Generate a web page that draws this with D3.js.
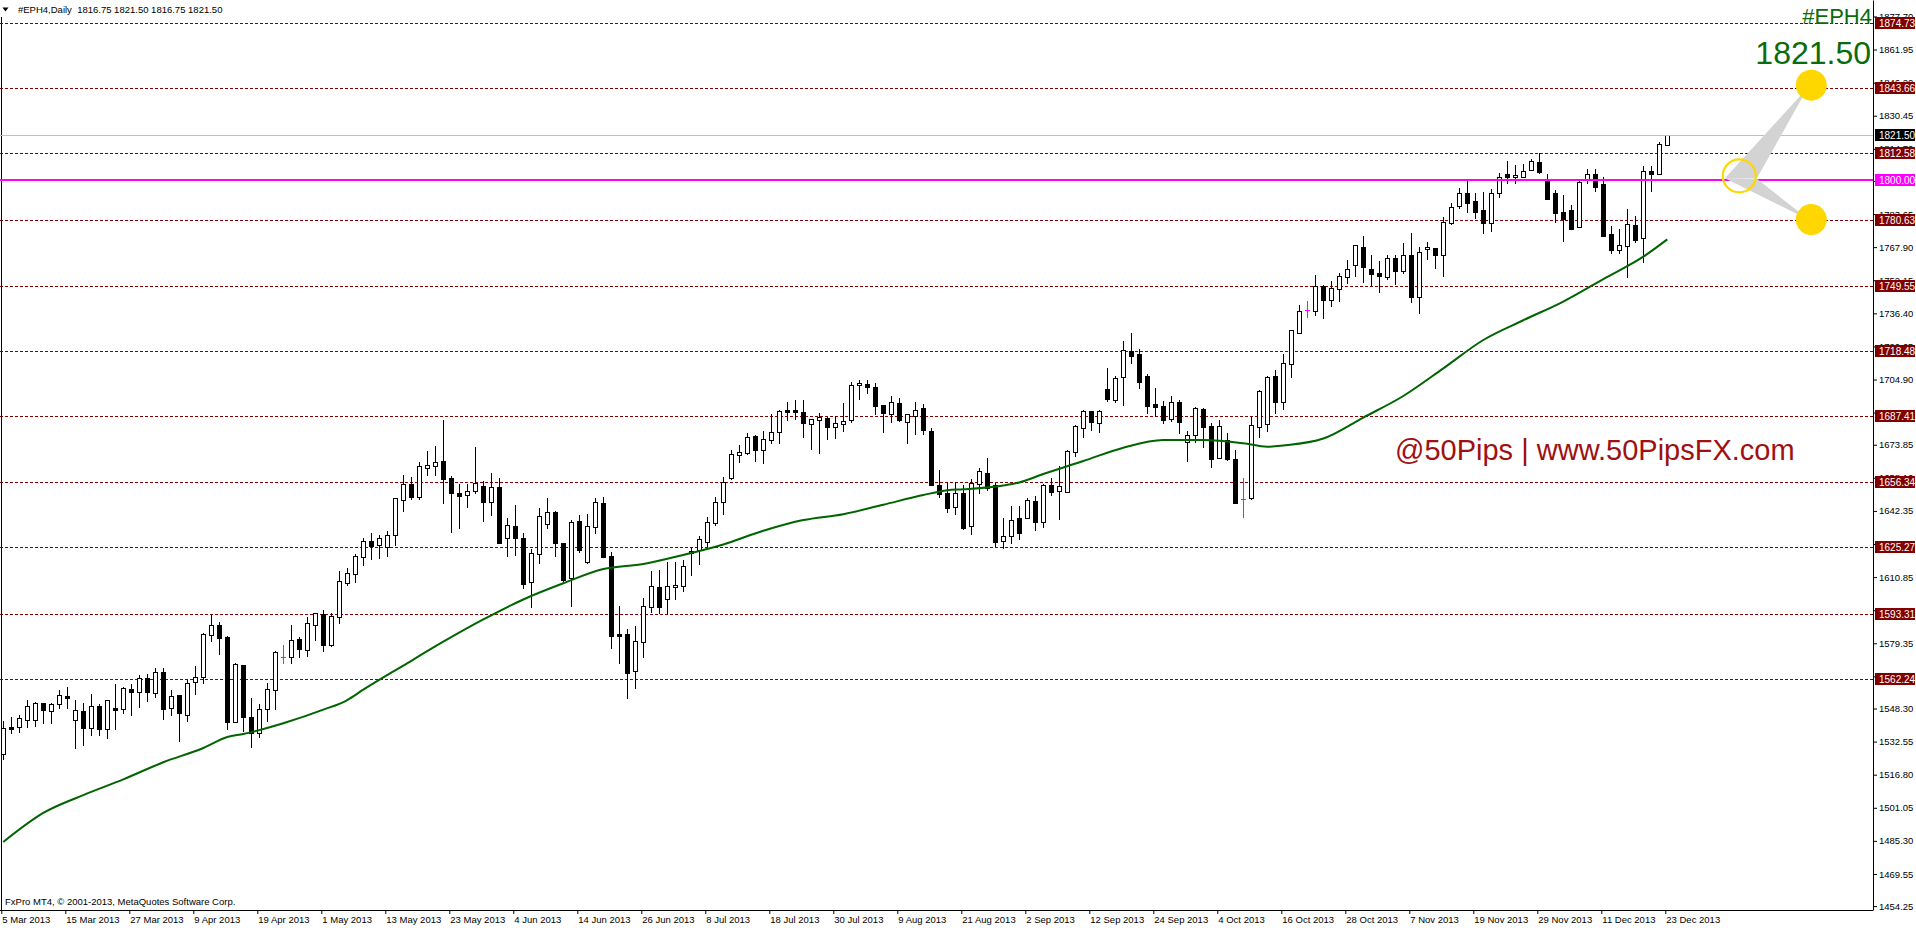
<!DOCTYPE html>
<html><head><meta charset="utf-8">
<script src="https://cdn.jsdelivr.net/npm/d3@7"></script>
<style>
html,body{margin:0;padding:0;background:#fff;overflow:hidden}
svg{display:block}
text{font-family:"Liberation Sans",Arial,sans-serif;white-space:pre}
</style></head><body>
<svg id="c" width="1916" height="928"></svg>
<script>
// ---------- DATA ----------
const symbol = "#EPH4";
const headerText = "#EPH4,Daily  1816.75 1821.50 1816.75 1821.50";
const lastPrice = 1821.50;
const keyLevel = 1800.00;
const copyright = "FxPro MT4, \u00A9 2001-2013, MetaQuotes Software Corp.";
const watermark = "@50Pips | www.50PipsFX.com";

const dateLabels = ["5 Mar 2013","15 Mar 2013","27 Mar 2013","9 Apr 2013","19 Apr 2013","1 May 2013","13 May 2013","23 May 2013","4 Jun 2013","14 Jun 2013","26 Jun 2013","8 Jul 2013","18 Jul 2013","30 Jul 2013","9 Aug 2013","21 Aug 2013","2 Sep 2013","12 Sep 2013","24 Sep 2013","4 Oct 2013","16 Oct 2013","28 Oct 2013","7 Nov 2013","19 Nov 2013","29 Nov 2013","11 Dec 2013","23 Dec 2013"];
const barsPerLabel = 8;

const opens = [1526.5,1539.35,1539.4,1542.8,1542.7,1550.8,1546.9,1550.3,1554.1,1542.7,1546.9,1538.9,1549.3,1538.4,1548.4,1547.9,1557.6,1556.0,1562.7,1555.5,
1565.5,1548.4,1554.6,1545.1,1560.8,1563.1,1583.1,1587.9,1582.3,1541.7,1568.85,1544.1,1536.5,1547.9,1556.95,1573.0,1572.7,1581.2,1576.0,1587.9,
1593.1,1578.7,1591.7,1607.9,1612.2,1620.3,1627.9,1626.0,1625.3,1630.7,1647.4,1655.0,1649.1,1662.6,1663.6,1665.95,1657.9,1650.7,1649.8,1651.7,
1654.05,1646.45,1653.6,1629.3,1635.0,1629.3,1608.4,1621.7,1636.0,1641.85,1626.9,1610.3,1637.6,1618.2,1634.5,1646.1,1620.7,1583.6,1583.6,1566.0,
1579.8,1596.5,1606.0,1600.3,1606.0,1606.5,1622.5,1623.75,1627.7,1636.4,1646.45,1657.9,1668.8,1669.75,1677.85,1671.2,1675.95,1679.75,1690.4,1690.4,
1689.3,1683.6,1685.5,1686.6,1682.1,1683.9,1685.5,1702.1,1702.6,1701.2,1692.6,1688.3,1693.55,1684.5,1687.7,1691.2,1680.2,1654.5,1650.7,1644.05,
1650.7,1635.0,1655.15,1660.25,1654.7,1628.0,1630.25,1638.8,1639.1,1647.1,1637.2,1654.7,1652.0,1651.5,1670.55,1682.0,1689.9,1684.35,1700.2,1695.15,
1705.9,1718.3,1716.9,1706.4,1693.25,1692.1,1686.3,1694.0,1675.0,1678.3,1690.7,1682.6,1667.7,1676.25,1666.9,1647.85,1648.3,1682.45,1683.55,1706.4,
1694.0,1712.1,1727.2,1737.8,1737.35,1749.4,1742.6,1747.8,1753.5,1759.2,1767.8,1757.3,1755.45,1753.85,1762.6,1756.7,1764.2,1744.3,1766.85,1767.3,
1764.3,1779.2,1787.65,1793.5,1789.9,1785.6,1779.55,1793.5,1802.55,1801.1,1801.45,1804.45,1808.3,1800.2,1793.5,1784.5,1785.6,1777.3,1799.85,1802.55,
1797.8,1774.0,1766.7,1768.6,1778.3,1772.1,1804.0,1802.55,1816.75];
const highs = [1542.5,1544.1,1545.2,1552.3,1551.6,1551.1,1550.8,1557.1,1558.4,1552.35,1550.8,1555.05,1550.3,1552.2,1560.0,1558.4,1560.0,1564.25,1564.6,1567.4,
1567.4,1557.1,1554.6,1561.9,1568.5,1584.1,1592.8,1589.3,1582.6,1570.1,1568.85,1553.15,1550.45,1560.6,1575.7,1578.5,1587.9,1582.2,1592.0,1593.9,
1595.2,1593.6,1613.6,1615.0,1621.7,1629.5,1631.7,1630.9,1632.8,1648.35,1659.45,1658.35,1665.6,1670.9,1673.25,1685.6,1659.0,1655.2,1655.0,1672.8,
1656.75,1660.25,1657.9,1638.8,1645.0,1631.7,1624.2,1643.7,1648.5,1642.3,1626.9,1638.0,1640.4,1640.9,1648.5,1649.0,1622.65,1597.1,1586.0,1587.6,
1600.75,1613.6,1614.1,1617.9,1618.05,1619.0,1624.55,1630.4,1639.3,1649.0,1658.5,1671.35,1673.7,1679.3,1678.3,1680.2,1688.3,1690.4,1694.0,1695.15,
1695.15,1685.95,1688.8,1687.2,1687.7,1693.55,1703.55,1704.7,1704.7,1703.1,1692.9,1697.05,1695.95,1688.3,1694.2,1693.25,1681.65,1661.7,1656.3,1656.3,
1654.5,1657.4,1662.6,1667.5,1655.8,1638.8,1644.7,1644.7,1648.65,1649.6,1655.0,1657.9,1663.7,1671.3,1683.25,1690.55,1689.9,1690.2,1710.5,1706.6,
1723.2,1727.2,1719.25,1707.35,1700.7,1694.65,1697.05,1695.15,1680.55,1691.65,1691.2,1684.0,1685.6,1679.3,1671.3,1657.85,1687.2,1699.9,1706.6,1709.4,
1717.0,1728.3,1740.35,1742.25,1754.65,1749.9,1751.8,1755.4,1761.8,1768.75,1773.2,1764.2,1761.3,1764.2,1764.2,1769.7,1774.5,1768.1,1770.2,1767.3,
1782.4,1788.75,1795.9,1799.85,1793.5,1794.3,1795.4,1803.0,1809.05,1806.85,1807.3,1809.85,1812.55,1802.7,1795.1,1792.7,1787.8,1799.4,1805.1,1805.1,
1801.45,1777.95,1776.5,1786.05,1782.7,1806.5,1806.5,1817.8,1821.5];
const lows = [1524.1,1536.5,1537.3,1539.7,1540.1,1541.6,1541.6,1548.7,1548.7,1529.35,1530.9,1535.7,1535.7,1534.4,1538.7,1546.3,1545.2,1549.2,1552.0,1553.9,
1543.5,1545.2,1533.0,1542.5,1555.05,1560.6,1580.6,1574.4,1538.4,1541.7,1537.75,1530.1,1534.6,1542.2,1548.1,1570.1,1570.1,1572.7,1573.5,1581.1,
1575.85,1578.2,1589.2,1606.9,1608.5,1616.8,1619.6,1620.1,1621.05,1626.1,1642.5,1648.2,1648.2,1659.45,1659.45,1646.3,1632.5,1634.4,1644.1,1650.7,
1637.7,1640.6,1626.9,1620.7,1621.5,1605.5,1596.5,1617.7,1634.4,1621.05,1609.0,1597.25,1622.8,1617.7,1632.0,1620.3,1576.95,1570.1,1553.15,1557.9,
1573.0,1594.1,1593.6,1593.1,1600.3,1604.0,1612.0,1617.0,1625.65,1635.5,1641.05,1657.4,1665.8,1669.6,1666.3,1665.3,1674.7,1674.85,1685.5,1685.95,
1677.4,1671.65,1670.1,1676.4,1677.2,1680.2,1684.5,1695.5,1698.65,1688.65,1680.1,1684.5,1685.0,1674.85,1679.1,1679.1,1654.5,1649.15,1642.0,1640.75,
1633.9,1631.2,1650.7,1652.5,1625.8,1624.55,1627.25,1629.0,1638.8,1633.25,1634.85,1649.9,1638.5,1651.5,1668.5,1677.55,1680.9,1679.9,1694.5,1694.35,
1692.9,1712.9,1701.0,1689.1,1687.5,1684.35,1685.3,1679.6,1666.25,1675.0,1672.9,1663.1,1667.4,1666.6,1645.95,1639.6,1647.85,1677.7,1680.55,1689.1,
1690.9,1706.25,1726.9,1734.8,1735.6,1734.3,1740.0,1742.4,1751.0,1754.3,1751.3,1749.7,1746.7,1752.9,1750.35,1755.75,1741.95,1736.4,1762.4,1758.1,
1754.3,1778.9,1786.4,1784.8,1781.9,1774.5,1775.75,1791.9,1798.6,1798.6,1801.1,1804.45,1803.0,1790.8,1779.7,1771.0,1776.4,1777.3,1798.3,1794.6,
1773.35,1765.3,1765.3,1753.85,1770.2,1761.0,1794.8,1802.55,1816.75];
const closes = [1538.9,1538.7,1543.6,1549.3,1550.8,1547.4,1550.3,1554.6,1553.1,1547.4,1539.2,1549.6,1538.4,1552.2,1547.75,1557.9,1556.3,1562.7,1556.0,1565.5,
1548.2,1554.1,1546.3,1560.3,1563.1,1583.6,1587.9,1582.0,1542.0,1569.65,1544.3,1536.5,1547.9,1557.4,1575.0,1573.0,1581.1,1576.5,1588.85,1593.6,
1578.4,1592.3,1608.8,1612.65,1620.9,1627.9,1625.8,1629.3,1630.7,1648.35,1655.0,1649.1,1663.6,1664.05,1665.5,1657.4,1650.7,1649.6,1652.0,1655.5,
1646.45,1653.6,1626.9,1635.5,1629.6,1607.7,1622.2,1639.8,1641.7,1627.25,1609.5,1636.9,1623.75,1635.0,1646.45,1620.3,1583.0,1582.65,1565.35,1580.3,
1596.9,1606.45,1596.8,1606.45,1606.9,1616.0,1623.1,1628.8,1636.9,1646.45,1655.95,1669.3,1670.2,1677.5,1671.2,1676.4,1679.75,1689.75,1689.6,1689.3,
1684.05,1685.95,1686.9,1682.5,1684.05,1685.0,1702.1,1703.1,1701.5,1692.45,1688.8,1694.0,1685.5,1688.3,1690.25,1680.7,1654.5,1650.25,1643.6,1650.7,
1634.4,1655.5,1661.2,1653.1,1627.4,1630.25,1637.9,1631.7,1647.55,1637.2,1654.5,1651.5,1654.2,1670.7,1682.6,1689.9,1684.8,1689.75,1695.8,1705.45,
1718.8,1716.25,1703.9,1692.45,1692.0,1685.8,1694.0,1684.8,1678.3,1691.2,1682.45,1666.9,1682.6,1667.2,1645.95,1647.85,1683.1,1699.25,1705.9,1694.35,
1712.6,1728.3,1737.35,1737.8,1749.55,1742.6,1748.3,1754.0,1757.3,1768.75,1758.6,1754.9,1754.3,1762.6,1756.7,1764.0,1744.3,1765.4,1767.8,1764.3,
1779.7,1787.2,1793.5,1789.1,1784.8,1779.55,1793.5,1801.1,1801.45,1802.1,1804.0,1808.75,1803.8,1790.8,1784.3,1781.45,1776.7,1798.75,1802.55,1796.7,
1773.35,1766.7,1768.75,1778.75,1771.3,1804.0,1802.55,1816.8,1821.5];

// moving average (bar index, value)
const maBars   = [0,5,10,15,20,25,28,30,35,40,43,45,50,55,60,65,70,75,80,85,90,95,100,105,110,115,118,120,125,127,130,135,140,145,150,155,158,160,165,170,175,180,185,190,195,200,205,208];
const maValues = [1484.8,1498.6,1507.1,1514.6,1522.75,1529.5,1534.75,1536.2,1541.3,1547.75,1552.35,1557.25,1568.75,1580.1,1590.7,1600.2,1607.9,1614.7,1617.1,1621.4,1626.4,1632.9,1638.0,1640.8,1645.3,1649.9,1652.2,1652.65,1654.45,1655.9,1659.9,1666.1,1672.45,1676.1,1676.1,1674.55,1672.9,1673.5,1676.8,1686.8,1697.05,1710.2,1723.7,1733.1,1742.0,1752.7,1763.35,1771.6];

const levelPrices = [1874.73,1843.66,1812.58,1780.63,1749.55,1718.48,1687.41,1656.34,1625.27,1593.31,1562.24];
const priceTicks = [1877.70,1861.95,1846.20,1830.45,1814.70,1799.40,1783.65,1767.90,1752.15,1736.40,1720.65,1704.90,1689.15,1673.85,1658.10,1642.35,1626.60,1610.85,1595.10,1579.35,1563.60,1548.30,1532.55,1516.80,1501.05,1485.30,1469.55,1454.25];

// annotation anchors (bar index, price)
const ringAnchor = [217, 1801.8];
const targetUp = [226, 1845.0];
const targetDown = [226, 1781.0];
const wedgeUp = [[215.2,1800.7],[225.6,1844.0],[219.2,1800.7]];
const wedgeDown = [[215.2,1800.7],[225.75,1780.8],[219.2,1800.4]];

// ---------- LAYOUT ----------
const W = 1916, H = 928;
const plotRight = 1873, plotBottom = 910;
const svg = d3.select("#c");

const x = d3.scaleLinear().domain([0, 208]).range([3.3, 1667.3]);
const y = d3.scaleLinear().domain([1452.4, 1885.53]).range([plotBottom, 0]);

const C_LEVEL = "#800000", C_MAG = "#ff00ff", C_GREEN = "#0b6b0b", C_GOLD = "#ffd700";

// frame lines
svg.append("line").attr("x1",1.5).attr("x2",1.5).attr("y1",0).attr("y2",plotBottom).attr("stroke","#000");

// dashed levels
const lv = svg.append("g").attr("shape-rendering","crispEdges");
lv.selectAll("line").data(levelPrices).join("line")
  .attr("x1",0).attr("x2",plotRight)
  .attr("y1",d=>Math.round(y(d))+0.5).attr("y2",d=>Math.round(y(d))+0.5)
  .attr("stroke",C_LEVEL).attr("stroke-dasharray","3,2");

// candles
const cg = svg.append("g").attr("shape-rendering","crispEdges");
const idx = d3.range(opens.length);
idx.forEach(i => {
  const o = opens[i], h = highs[i], l = lows[i], c = closes[i];
  const cx = Math.round(x(i)) + 0.5;
  const doji = o === c;
  const col = doji ? C_MAG : "#000";
  cg.append("line").attr("x1",cx).attr("x2",cx)
    .attr("y1",Math.round(y(h))).attr("y2",Math.round(y(l))+1).attr("stroke",col);
  if (doji) {
    const yy = Math.round(y(o)) + 0.5;
    cg.append("line").attr("x1",cx-2.5).attr("x2",cx+2.5).attr("y1",yy).attr("y2",yy).attr("stroke",col);
  } else {
    const top = Math.round(y(Math.max(o,c))), bot = Math.round(y(Math.min(o,c)));
    cg.append("rect").attr("x",cx-2).attr("y",top+0.5)
      .attr("width",4).attr("height",Math.max(bot-top,1))
      .attr("fill", c > o ? "#fff" : "#000").attr("stroke","#000");
  }
});

// moving average
const maLine = d3.line().x((d,k)=>x(maBars[k])).y(d=>y(d)).curve(d3.curveMonotoneX);
svg.append("path").datum(maValues).attr("d",maLine)
  .attr("fill","none").attr("stroke","#006400").attr("stroke-width",2);

// bid line & key level
svg.append("line").attr("x1",0).attr("x2",plotRight)
  .attr("y1",Math.round(y(lastPrice))+0.5).attr("y2",Math.round(y(lastPrice))+0.5)
  .attr("stroke","#c0c0c0").attr("shape-rendering","crispEdges");
svg.append("line").attr("x1",0).attr("x2",plotRight)
  .attr("y1",Math.round(y(keyLevel))).attr("y2",Math.round(y(keyLevel)))
  .attr("stroke",C_MAG).attr("stroke-width",2).attr("shape-rendering","crispEdges");

// annotation wedges & circles
const pt = d => [x(d[0]), y(d[1])];
svg.append("polygon").attr("points", wedgeUp.map(pt).join(" ")).attr("fill","#d3d3d3");
svg.append("polygon").attr("points", wedgeDown.map(pt).join(" ")).attr("fill","#d3d3d3");
[targetUp, targetDown].forEach(d => {
  svg.append("circle").attr("cx",x(d[0])).attr("cy",y(d[1])).attr("r",15.5).attr("fill",C_GOLD);
});
svg.append("circle").attr("cx",x(ringAnchor[0])).attr("cy",y(ringAnchor[1])).attr("r",16.5)
  .attr("fill","none").attr("stroke",C_GOLD).attr("stroke-width",2.2);

// texts
svg.append("text").attr("x",plotRight-1).attr("y",24).attr("text-anchor","end")
  .attr("font-size",22).attr("fill",C_GREEN).text(symbol);
svg.append("text").attr("x",plotRight-2).attr("y",64).attr("text-anchor","end")
  .attr("font-size",32).attr("fill",C_GREEN).text(d3.format(".2f")(lastPrice));
svg.append("text").attr("x",1395).attr("y",460).attr("font-size",29)
  .attr("fill","#a01010").text(watermark);

// header
svg.append("rect").attr("x",0).attr("y",0).attr("width",226).attr("height",17).attr("fill","#fff");
svg.append("path").attr("d","M2.5,7.5 L8.5,7.5 L5.5,11.5 Z").attr("fill","#000");
svg.append("text").attr("x",18).attr("y",13).attr("font-size",9.5).attr("fill","#000").text(headerText);
svg.append("text").attr("x",5).attr("y",905).attr("font-size",9.5).attr("fill","#000").text(copyright);

// price axis
const yAxis = d3.axisRight(y).tickValues(priceTicks).tickFormat(d3.format(".2f"))
  .tickSize(4).tickPadding(2).tickSizeOuter(0);
const ya = svg.append("g").attr("transform",`translate(${plotRight},0)`).call(yAxis);
ya.selectAll("text").attr("font-size",9.5).attr("font-family","Liberation Sans, Arial, sans-serif").attr("fill","#000");
ya.select(".domain").attr("stroke","#000");
ya.selectAll(".tick line").attr("stroke","#000");

// price boxes
function priceBox(p, bg, label) {
  const yy = Math.round(y(p));
  svg.append("rect").attr("x",plotRight+2).attr("y",yy-6).attr("width",40).attr("height",12).attr("fill",bg);
  svg.append("text").attr("x",plotRight+6).attr("y",yy+4).attr("font-size",10).attr("fill","#fff").text(label);
}
levelPrices.forEach(p => priceBox(p, C_LEVEL, d3.format(".2f")(p)));
priceBox(keyLevel, C_MAG, d3.format(".2f")(keyLevel));
priceBox(lastPrice, "#000", d3.format(".2f")(lastPrice));

// time axis
const xAxis = d3.axisBottom(x).tickValues(dateLabels.map((d,k)=>k*barsPerLabel))
  .tickFormat(i => dateLabels[i/barsPerLabel]).tickSize(4).tickSizeOuter(0);
const xa = svg.append("g").attr("transform",`translate(0,${plotBottom})`).call(xAxis);
xa.select(".domain").attr("d",`M0,0.5H${plotRight}`).attr("stroke","#000");
xa.selectAll(".tick line").attr("transform","translate(-2,0)").attr("stroke","#000");
xa.selectAll(".tick text").attr("text-anchor","start").attr("dx",-1.5).attr("y",6)
  .attr("font-size",9.5).attr("font-family","Liberation Sans, Arial, sans-serif").attr("fill","#000");
</script>
</body></html>
